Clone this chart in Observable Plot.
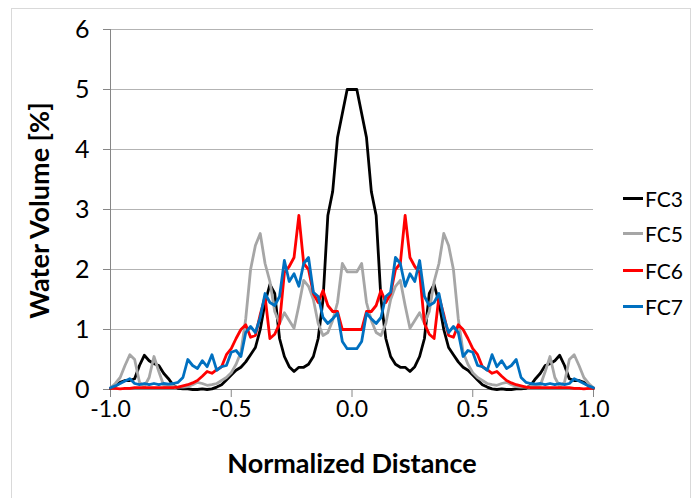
<!DOCTYPE html>
<html><head><meta charset="utf-8">
<script src="https://cdn.jsdelivr.net/npm/d3@7"></script>
<script src="https://cdn.jsdelivr.net/npm/@observablehq/plot@0.6"></script>
<style>
body{margin:0;background:#fff;}
#wrap{position:relative;width:696px;height:498px;overflow:hidden;font-family:Lato,"Liberation Sans",Arial,sans-serif;}
#border{position:absolute;left:11px;top:8px;width:680px;height:520px;border:1px solid #d9d9d9;box-sizing:border-box;}
#chart{position:absolute;left:0;top:0;}
.item{position:absolute;left:623px;height:24px;display:flex;align-items:center;white-space:nowrap;font-size:21px;color:#000;}
.sw{width:20px;height:3px;margin-right:2px;}
</style></head>
<body>
<div id="wrap"><div id="border"></div><div id="chart"></div><div id="legend"></div></div>
<script>
const xs = [-1.00,-0.98,-0.96,-0.94,-0.92,-0.90,-0.88,-0.86,-0.84,-0.82,-0.80,-0.78,-0.76,-0.74,-0.72,-0.70,-0.68,-0.66,-0.64,-0.62,-0.60,-0.58,-0.56,-0.54,-0.52,-0.50,-0.48,-0.46,-0.44,-0.42,-0.40,-0.38,-0.36,-0.34,-0.32,-0.30,-0.28,-0.26,-0.24,-0.22,-0.20,-0.18,-0.16,-0.14,-0.12,-0.10,-0.08,-0.06,-0.04,-0.02,0.00,
0.02,0.04,0.06,0.08,0.10,0.12,0.14,0.16,0.18,0.20,0.22,0.24,0.26,0.28,0.30,0.32,0.34,0.36,0.38,0.40,0.42,0.44,0.46,0.48,0.50,0.52,0.54,0.56,0.58,0.60,0.62,0.64,0.66,0.68,0.70,0.72,0.74,0.76,0.78,0.80,0.82,0.84,0.86,0.88,0.90,0.92,0.94,0.96,0.98,1.00];

const fc3 = [0.02,0.06,0.12,0.15,0.15,0.18,0.4,0.57,0.48,0.43,0.4,0.27,0.18,0.07,0.02,0.01,0.01,0,0,0.01,0,0.01,0.04,0.08,0.16,0.24,0.32,0.37,0.46,0.58,0.7,1.0,1.45,1.75,1.6,0.85,0.55,0.38,0.3,0.37,0.37,0.42,0.55,0.85,1.5,2.9,3.3,4.2,4.6,5.0,5.0,
5.0,4.6,4.2,3.3,2.9,1.5,0.85,0.55,0.42,0.37,0.37,0.3,0.38,0.55,0.85,1.6,1.75,1.45,1.0,0.7,0.58,0.46,0.37,0.32,0.24,0.16,0.08,0.04,0.01,0,0.01,0,0,0.01,0.01,0.02,0.07,0.18,0.27,0.4,0.43,0.48,0.57,0.4,0.18,0.15,0.15,0.12,0.06,0.02];

const fc5 = [0.03,0.1,0.2,0.4,0.58,0.5,0.12,0.05,0.2,0.55,0.3,0.07,0.05,0.05,0.04,0.04,0.05,0.08,0.12,0.1,0.07,0.08,0.1,0.15,0.2,0.28,0.42,0.62,1.18,2.0,2.4,2.6,2.1,1.8,1.3,1.1,1.28,1.15,1.02,1.4,1.82,1.72,1.5,1.1,0.9,0.95,1.15,1.45,2.1,1.96,1.96,
1.96,2.1,1.45,1.15,0.95,0.9,1.1,1.5,1.72,1.82,1.4,1.02,1.15,1.28,1.1,1.3,1.8,2.1,2.6,2.4,2.0,1.18,0.62,0.42,0.28,0.2,0.15,0.1,0.08,0.07,0.1,0.12,0.08,0.05,0.04,0.04,0.05,0.05,0.07,0.3,0.55,0.2,0.05,0.12,0.5,0.58,0.4,0.2,0.1,0.03];

const fc6 = [0.02,0.02,0.01,0.02,0.02,0.03,0.03,0.03,0.03,0.03,0.03,0.03,0.03,0.03,0.04,0.06,0.08,0.11,0.15,0.22,0.3,0.27,0.33,0.38,0.58,0.68,0.85,1.0,1.08,0.87,0.9,1.25,1.55,0.85,0.92,1.1,1.95,2.05,2.2,2.9,2.1,2.0,1.6,1.45,1.65,1.4,1.3,1.3,1.0,1.0,1.0,
1.0,1.0,1.3,1.3,1.4,1.65,1.45,1.6,2.0,2.1,2.9,2.2,2.05,1.95,1.1,0.92,0.85,1.55,1.25,0.9,0.87,1.08,1.0,0.85,0.68,0.58,0.38,0.33,0.27,0.3,0.22,0.15,0.11,0.08,0.06,0.04,0.03,0.03,0.03,0.03,0.03,0.03,0.03,0.03,0.03,0.02,0.02,0.01,0.02,0.02];

const fc7 = [0.03,0.06,0.1,0.14,0.18,0.1,0.08,0.1,0.08,0.1,0.08,0.1,0.09,0.1,0.12,0.2,0.5,0.4,0.35,0.48,0.38,0.58,0.32,0.38,0.4,0.62,0.65,0.55,0.95,1.05,0.95,1.2,1.6,1.45,1.4,1.55,2.15,1.8,1.93,1.72,2.1,2.2,1.62,1.55,1.2,1.1,1.18,1.27,0.8,0.68,0.68,
0.68,0.8,1.27,1.18,1.1,1.2,1.55,1.62,2.2,2.1,1.72,1.93,1.8,2.15,1.55,1.4,1.45,1.6,1.2,0.95,1.05,0.95,0.55,0.65,0.62,0.4,0.38,0.32,0.58,0.38,0.48,0.35,0.4,0.5,0.2,0.12,0.1,0.09,0.1,0.08,0.1,0.08,0.1,0.08,0.1,0.18,0.14,0.1,0.06,0.03];

const seriesNames = ["FC3","FC5","FC6","FC7"];
const seriesColors = ["#000000","#a6a6a6","#ff0000","#0070c0"];
const seriesValues = [fc3, fc5, fc6, fc7];
const xTicks = [-1.0,-0.5,0.0,0.5,1.0];
const yTicks = [0,1,2,3,4,5,6];
const xTitle = "Normalized Distance";
const yTitle = "Water Volume [%]";

const data = [];
seriesNames.forEach((name, i) => {
  seriesValues[i].forEach((v, j) => data.push({series: name, x: xs[j], y: v}));
});

const font = 'Lato,"Liberation Sans",Arial,sans-serif';
const chart = Plot.plot({
  width: 696, height: 498,
  marginLeft: 110, marginRight: 103, marginTop: 29, marginBottom: 109,
  style: {fontFamily: font, background: "transparent", color: "#000"},
  x: {type: "linear", domain: [-1, 1]},
  y: {type: "linear", domain: [0, 6]},
  color: {domain: seriesNames, range: seriesColors},
  marks: [
    Plot.gridY(yTicks, {stroke: "#b3b3b3", strokeOpacity: 1, strokeWidth: 1}),
    Plot.axisY({ticks: yTicks, tickSize: 7, tickPadding: 14, fontSize: 25, stroke: "#868686", fill: "#000", label: null, tickFormat: d => String(d)}),
    Plot.axisX({ticks: xTicks, tickSize: 8, tickPadding: 3, fontSize: 23, stroke: "#868686", fill: "#000", label: null, tickFormat: d => d.toFixed(1)}),
    Plot.ruleX([-1], {stroke: "#868686", strokeWidth: 1}),
    Plot.ruleY([0], {stroke: "#868686", strokeWidth: 1}),
    Plot.line(data, {x: "x", y: "y", z: "series", stroke: "series", strokeWidth: 2.8, strokeLinejoin: "round"}),
    Plot.text([xTitle], {frameAnchor: "bottom", dy: 83, fontSize: 27, fontWeight: "bold", fill: "#000"}),
    Plot.text([yTitle], {frameAnchor: "left", textAnchor: "middle", dx: -70, dy: 1, rotate: -90, fontSize: 27, fontWeight: "bold", fill: "#000"})
  ]
});
document.getElementById("chart").appendChild(chart);

const legendY = [198, 233, 270, 306];
const legend = document.getElementById("legend");
seriesNames.forEach((name, i) => {
  const it = document.createElement("div");
  it.className = "item";
  it.style.top = (legendY[i] - 12) + "px";
  it.innerHTML = `<span class="sw" style="background:${seriesColors[i]}"></span><span>${name}</span>`;
  legend.appendChild(it);
});
</script>
</body></html>
